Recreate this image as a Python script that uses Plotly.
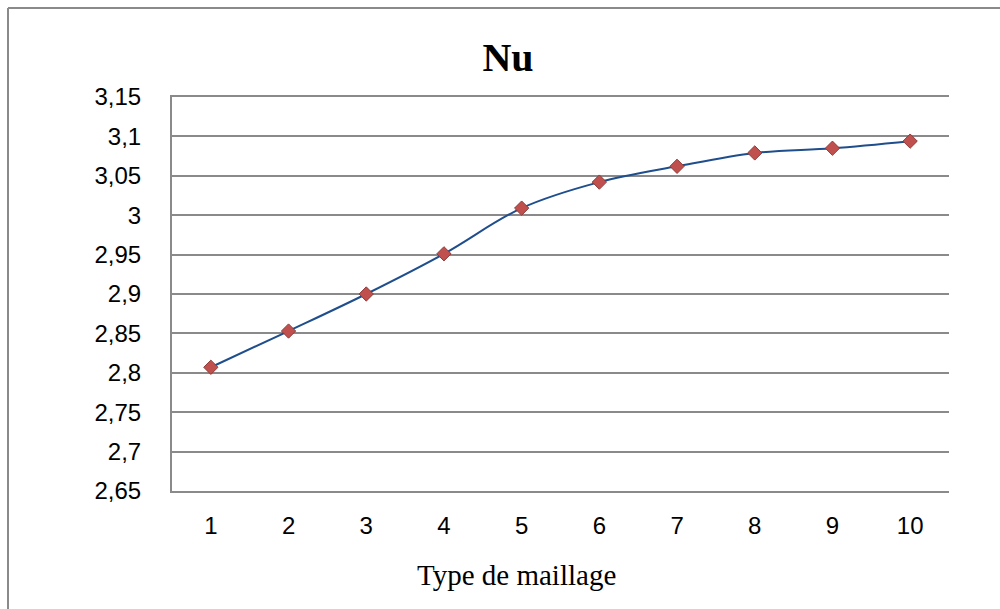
import plotly.graph_objects as go

categories = [1, 2, 3, 4, 5, 6, 7, 8, 9, 10]
nu_values = [2.807, 2.853, 2.900, 2.951, 3.009, 3.042, 3.062, 3.079, 3.085, 3.094]
y_tickvals = [2.65, 2.70, 2.75, 2.80, 2.85, 2.90, 2.95, 3.00, 3.05, 3.10, 3.15]
y_ticktext = ["2,65", "2,7", "2,75", "2,8", "2,85", "2,9", "2,95", "3", "3,05", "3,1", "3,15"]

W, H = 1000, 609
L, R, T, B = 172, 51, 97, 118
pw, ph = W - L - R, H - T - B

fig = go.Figure()
fig.add_trace(go.Scatter(
    x=categories, y=nu_values, mode="lines+markers",
    line=dict(color="#1F4E8C", width=2, shape="spline", smoothing=1.0),
    marker=dict(symbol="diamond", size=11, color="#C0504D",
                line=dict(color="#8E3B39", width=1)),
    showlegend=False,
))

def px_x(p):
    return (p - L) / pw

def px_y(p):
    return 1 - (p - T) / ph

grey = "#8a8a8a"
fig.add_shape(type="line", xref="paper", yref="paper",
              x0=px_x(8), x1=px_x(8), y0=px_y(8), y1=px_y(640),
              line=dict(color=grey, width=2))
fig.add_shape(type="line", xref="paper", yref="paper",
              x0=px_x(8), x1=px_x(1040), y0=px_y(8), y1=px_y(8),
              line=dict(color=grey, width=2))

fig.add_annotation(text="Type de maillage", xref="paper", yref="paper",
                   x=px_x(516), y=px_y(575), xanchor="center", yanchor="middle",
                   showarrow=False,
                   font=dict(family="Liberation Serif", size=29, color="black"))

fig.update_layout(
    width=W, height=H,
    margin=dict(l=L, r=R, t=T, b=B),
    paper_bgcolor="white", plot_bgcolor="white",
    title=dict(text="<b>Nu</b>", x=508 / W, xanchor="center", xref="container",
               y=1 - 57 / H, yanchor="middle", yref="container",
               font=dict(family="Liberation Serif", size=40, color="black")),
    xaxis=dict(
        type="category", tickvals=categories, ticktext=[str(c) for c in categories],
        range=[-0.5, 9.5], showgrid=False, showline=True, mirror=True,
        linecolor=grey, linewidth=2, zeroline=False,
        ticks="", ticklabelstandoff=12,
        tickfont=dict(family="Liberation Sans", size=24, color="black"),
    ),
    yaxis=dict(
        range=[2.65, 3.15], tickvals=y_tickvals, ticktext=y_ticktext,
        showgrid=True, gridcolor=grey, gridwidth=2,
        showline=True, linecolor=grey, linewidth=2, zeroline=False,
        ticks="", ticklabelstandoff=24,
        tickfont=dict(family="Liberation Sans", size=24, color="black"),
    ),
)

fig.write_html("out.html")
